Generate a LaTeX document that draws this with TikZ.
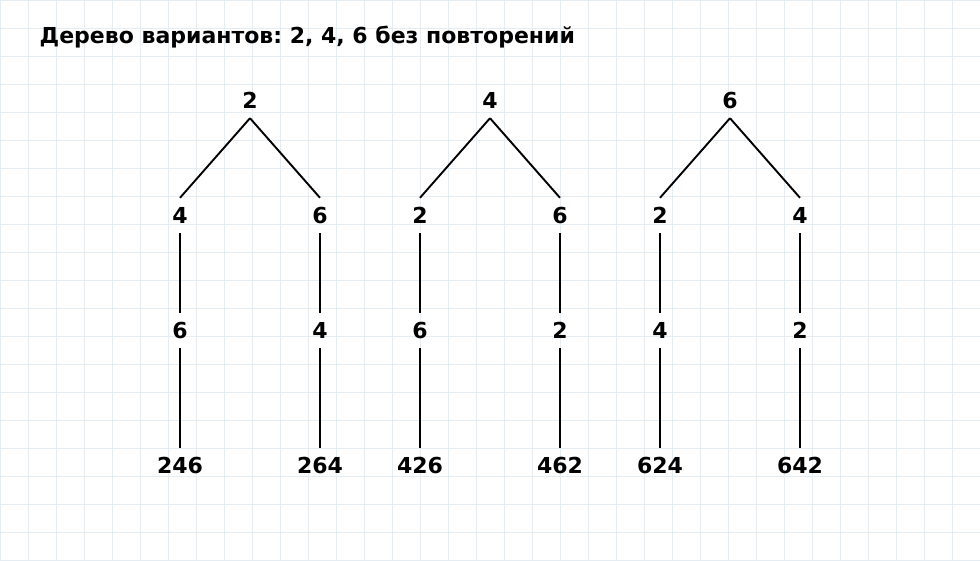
\documentclass[tikz,border=0pt]{standalone}
\usepackage{fontspec}
\setmainfont{DejaVu Sans}
\usetikzlibrary{positioning}
\definecolor{gridblue}{RGB}{229,236,242}
\frenchspacing

\begin{document}
\begin{tikzpicture}[
    x=1pt, y=-1pt,
    node distance=115pt and 70pt, on grid,
    num/.style={font=\bfseries\fontsize{22}{26}\selectfont, inner sep=0pt, minimum height=35pt},
    branch/.style={draw=black, line width=1.9pt},
    gridline/.style={draw=gridblue, line width=0.8pt}
]
    \useasboundingbox (0,0) rectangle (980,560);
    \fill[white] (0,0) rectangle (980,560);
    \foreach \gx in {0,28,...,980} \draw[gridline] (\gx,0) -- (\gx,560);
    \foreach \gy in {0,28,...,560} \draw[gridline] (0,\gy) -- (980,\gy);

    \node[anchor=base west, inner sep=0pt, font=\bfseries\fontsize{22}{26}\selectfont] (title) at (39.5,43.3) {Дерево вариантов: 2, 4, 6 без повторений};

    % tree from 2
    \node[num] (r2) at (250,100.5) {2};
    \node[num, below left=of r2] (r24) {4};
    \node[num, below right=of r2] (r26) {6};
    \node[num, below=of r24] (r246) {6};
    \node[num, below=of r26] (r264) {4};
    \node[num, below=135pt of r246] (l246) {246};
    \node[num, below=135pt of r264] (l264) {264};

    % tree from 4
    \node[num] (r4) at (490,100.5) {4};
    \node[num, below left=of r4] (r42) {2};
    \node[num, below right=of r4] (r46) {6};
    \node[num, below=of r42] (r426) {6};
    \node[num, below=of r46] (r462) {2};
    \node[num, below=135pt of r426] (l426) {426};
    \node[num, below=135pt of r462] (l462) {462};

    % tree from 6
    \node[num] (r6) at (730,100.5) {6};
    \node[num, below left=of r6] (r62) {2};
    \node[num, below right=of r6] (r64) {4};
    \node[num, below=of r62] (r624) {4};
    \node[num, below=of r64] (r642) {2};
    \node[num, below=135pt of r624] (l624) {624};
    \node[num, below=135pt of r642] (l642) {642};

    \draw[branch] (r2.south) -- (r24.north);
    \draw[branch] (r2.south) -- (r26.north);
    \draw[branch] (r24) -- (r246);
    \draw[branch] (r26) -- (r264);
    \draw[branch] (r246) -- (l246);
    \draw[branch] (r264) -- (l264);

    \draw[branch] (r4.south) -- (r42.north);
    \draw[branch] (r4.south) -- (r46.north);
    \draw[branch] (r42) -- (r426);
    \draw[branch] (r46) -- (r462);
    \draw[branch] (r426) -- (l426);
    \draw[branch] (r462) -- (l462);

    \draw[branch] (r6.south) -- (r62.north);
    \draw[branch] (r6.south) -- (r64.north);
    \draw[branch] (r62) -- (r624);
    \draw[branch] (r64) -- (r642);
    \draw[branch] (r624) -- (l624);
    \draw[branch] (r642) -- (l642);
\end{tikzpicture}
\end{document}
